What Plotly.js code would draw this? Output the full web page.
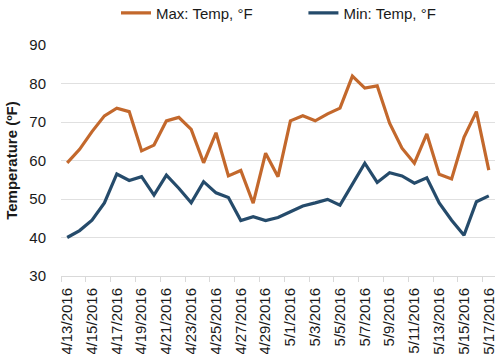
<!DOCTYPE html>
<html>
<head>
<meta charset="utf-8">
<script src="https://cdn.plot.ly/plotly-3.0.1.min.js"></script>
<style>html,body{margin:0;padding:0;background:#fff}#chart{width:500px;height:354px}</style>
</head>
<body>
<div id="chart"></div>
<script>
const dates = ["4/13/2016","4/14/2016","4/15/2016","4/16/2016","4/17/2016","4/18/2016","4/19/2016","4/20/2016","4/21/2016","4/22/2016","4/23/2016","4/24/2016","4/25/2016","4/26/2016","4/27/2016","4/28/2016","4/29/2016","4/30/2016","5/1/2016","5/2/2016","5/3/2016","5/4/2016","5/5/2016","5/6/2016","5/7/2016","5/8/2016","5/9/2016","5/10/2016","5/11/2016","5/12/2016","5/13/2016","5/14/2016","5/15/2016","5/16/2016","5/17/2016"];
const maxTemp = [59.4,62.9,67.5,71.6,73.6,72.7,62.5,64.0,70.3,71.2,68.1,59.4,67.2,56.0,57.4,48.9,61.9,55.8,70.3,71.6,70.3,72.1,73.6,81.9,78.8,79.4,69.7,63.2,59.3,66.9,56.4,55.2,66.0,72.7,57.5];
const minTemp = [40.0,41.8,44.5,49.0,56.5,54.8,55.8,51.0,56.2,52.8,49.0,54.5,51.6,50.4,44.4,45.4,44.4,45.2,46.7,48.2,49.0,49.9,48.4,53.9,59.3,54.3,56.8,56.0,54.1,55.5,49.0,44.5,40.6,49.3,50.8];
const yTicks = [30,40,50,60,70,80,90];

const idx = dates.map((d,i)=>i);
const labelIdx = idx.filter(i=>i%2===0);
const boundaryIdx = [];
for (let i=0;i<=dates.length;i+=2) boundaryIdx.push(i-0.5);

const font = {family:"Liberation Sans, Arial, sans-serif", size:15, color:"#1a1a1a"};
const gap = "\u00a0".repeat(11);

const traces = [
  {x:idx, y:maxTemp, type:"scatter", mode:"lines", name:"Max: Temp, °F" + gap, line:{color:"#C3682C", width:3.2}},
  {x:idx, y:minTemp, type:"scatter", mode:"lines", name:"Min: Temp, °F", line:{color:"#254B6B", width:3.2}},
  {x:[boundaryIdx[0]], y:[30], xaxis:"x2", type:"scatter", mode:"markers", marker:{opacity:0}, showlegend:false, hoverinfo:"skip"}
];

const layout = {
  width:500, height:354,
  margin:{l:61, r:5, t:45, b:78},
  paper_bgcolor:"#fff", plot_bgcolor:"#fff",
  font:font,
  showlegend:true,
  legend:{orientation:"h", x:0.232, xref:"container", xanchor:"left", yref:"container", y:0.963, yanchor:"middle", font:font, tracegroupgap:0, bgcolor:"rgba(0,0,0,0)"},
  xaxis:{
    type:"linear", range:[-0.5, dates.length-0.5],
    tickmode:"array", tickvals:labelIdx, ticktext:labelIdx.map(i=>dates[i]),
    tickangle:-90, ticks:"", showgrid:false, zeroline:false,
    showline:true, linecolor:"#d9d9d9", linewidth:1,
    tickfont:font, ticklabelstandoff:5, automargin:false
  },
  xaxis2:{
    type:"linear", range:[-0.5, dates.length-0.5], overlaying:"x", anchor:"y",
    tickmode:"array", tickvals:boundaryIdx, showticklabels:false,
    ticks:"outside", ticklen:5, tickcolor:"#d9d9d9", tickwidth:1,
    showgrid:false, zeroline:false, showline:false
  },
  yaxis:{
    range:[30,90], tickmode:"array", tickvals:yTicks,
    showgrid:true, gridcolor:"#e0e0e0", gridwidth:1, zeroline:false,
    showline:false, ticks:"", tickfont:font, ticklabelstandoff:14, automargin:false,
    title:{text:"Temperature (ºF)", font:{family:"Liberation Sans, Arial, sans-serif", size:15, color:"#1a1a1a", weight:"bold"}, standoff:8}
  }
};

Plotly.newPlot("chart", traces, layout, {displayModeBar:false, staticPlot:true});
</script>
</body>
</html>
